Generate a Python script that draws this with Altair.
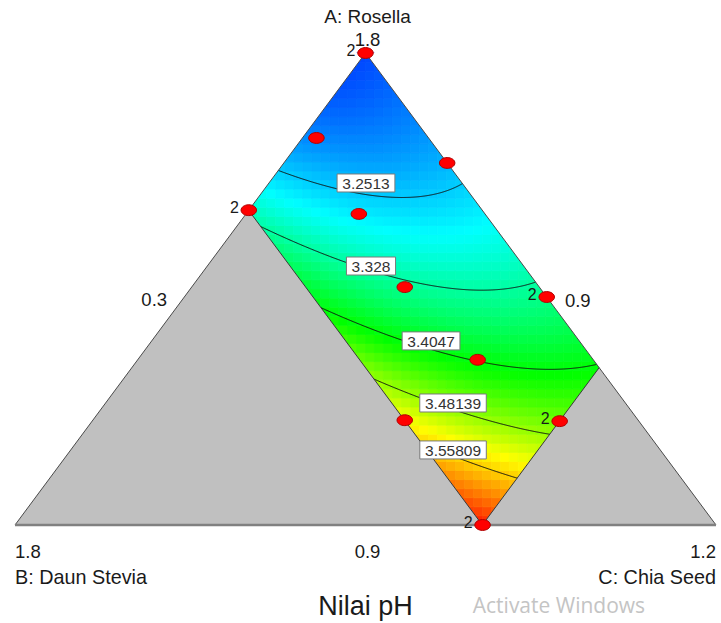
import altair as alt
import pandas as pd
import numpy as np

# ---------------- data ----------------
# Design points, ternary fractions (A: Rosella, B: Daun Stevia, C: Chia Seed)
pt_a = [1.0, 0.82, 0.767, 0.667, 0.659, 0.504, 0.483, 0.35, 0.222, 0.22, 0.0]
pt_b = [0.0, 0.16, 0.0, 0.333, 0.18, 0.192, 0.0, 0.165, 0.333, 0.113, 0.333]
pt_c = [0.0, 0.02, 0.233, 0.0, 0.161, 0.304, 0.517, 0.485, 0.445, 0.667, 0.667]
pt_rep = ["2", "", "", "2", "", "", "2", "", "", "2", "2"]

# Contour levels and their label positions (ternary fractions)
levels = [3.2513, 3.328, 3.4047, 3.48139, 3.55809]
level_text = ["3.2513", "3.328", "3.4047", "3.48139", "3.55809"]
lab_a = [0.7246, 0.5487, 0.390, 0.2585, 0.159]
lab_c = [0.1384, 0.2335, 0.3985, 0.4956, 0.5454]

# Constraint limits of the feasible region (fractions of B and C)
b_max = 1.0 / 3.0
c_max = 2.0 / 3.0

# Estimated quadratic response surface in pseudo coords u=B/b_max, v=C/c_max
# terms: 1, u, v, u^2, u*v, v^2
model_coef = [3.175, -0.006, 0.149, 0.145, 0.118, 0.084]

# colour ramp (blue -> cyan -> green -> yellow -> red)
ramp_values = [3.175, 3.28, 3.41, 3.53, 3.665]
ramp_colors = ["#0048ff", "#00ffff", "#00ff00", "#ffff00", "#ff1a00"]

# texts
title_text = "Nilai pH"
apex_texts = ["A: Rosella", "1.8"]
left_texts = ["1.8", "B: Daun Stevia"]
right_texts = ["1.2", "C: Chia Seed"]
mid_text = "0.9"
side_left_text = "0.3"
side_right_text = "0.9"
side_level = 0.4767   # fraction of A where the side labels sit
watermark = "Activate Windows"

# ---------------- helpers ----------------
W, H = 701, 472


def to_xy(a, c):
    return 0.5 * a + c, a


def model(u, v):
    k = model_coef
    return k[0] + k[1] * u + k[2] * v + k[3] * u * u + k[4] * u * v + k[5] * v * v


sx = alt.Scale(domain=[0, 1], nice=False, zero=False)
sy = alt.Scale(domain=[0, 1], nice=False, zero=False)
X = alt.X("x:Q", scale=sx, axis=None)
Y = alt.Y("y:Q", scale=sy, axis=None)

# ---------------- colour field ----------------
nx, ny = 39, 52
x_lo, x_hi = 1.0 / 3.0, 5.0 / 6.0
xs = np.linspace(x_lo, x_hi, nx + 1)
ys = np.linspace(0.0, 1.0, ny + 1)
cells = []
for i in range(nx):
    for j in range(ny):
        xc = 0.5 * (xs[i] + xs[i + 1])
        yc = 0.5 * (ys[j] + ys[j + 1])
        inside = False
        for xx in (xs[i], xs[i + 1]):
            for yy in (ys[j], ys[j + 1]):
                a = yy
                c = xx - 0.5 * yy
                b = 1 - a - c
                if -1e-9 <= b <= b_max + 1e-9 and -1e-9 <= c <= c_max + 1e-9 and a >= -1e-9:
                    inside = True
        if not inside:
            continue
        a = yc
        c = xc - 0.5 * yc
        b = 1 - a - c
        u = min(max(b / b_max, 0), 1)
        v = min(max(c / c_max, 0), 1)
        cells.append(dict(x0=xs[i], x1=xs[i + 1], y0=ys[j], y1=ys[j + 1], val=model(u, v)))
cells = pd.DataFrame(cells)

cscale = alt.Scale(domain=ramp_values, range=ramp_colors, interpolate="rgb")
field = alt.Chart(cells).mark_rect(strokeWidth=0.8).encode(
    x=alt.X("x0:Q", scale=sx, axis=None), x2="x1:Q",
    y=alt.Y("y0:Q", scale=sy, axis=None), y2="y1:Q",
    color=alt.Color("val:Q", scale=cscale, legend=None),
    stroke=alt.Stroke("val:Q", scale=cscale, legend=None),
)

# ---------------- masks ----------------
gray_df = pd.DataFrame({"x": [0, 1 / 3, 2 / 3, 5 / 6, 1], "y": [0] * 5,
                        "y2": [0, 2 / 3, 0, 1 / 3, 0]})
gray = alt.Chart(gray_df).mark_area(color="#c0c0c0", opacity=1).encode(
    x=X, y=Y, y2="y2:Q")
e = 0.012
white_df = pd.DataFrame({"x": [1 / 3 - e, 0.5, 5 / 6 + e],
                         "y": [2 * (1 / 3 - e), 1, 2 * (1 / 6 - e)], "y2": [1.0] * 3})
white = alt.Chart(white_df).mark_area(color="white", opacity=1).encode(
    x=X, y=Y, y2="y2:Q")

# ---------------- contour lines ----------------
k = model_coef
rows = []
for L, lt in zip(levels, level_text):
    pts = []
    for u in np.linspace(0, 1, 401):
        A = k[5]
        B = k[2] + k[4] * u
        C = k[0] + k[1] * u + k[3] * u * u - L
        d = B * B - 4 * A * C
        if d < 0:
            continue
        v = (-B + np.sqrt(d)) / (2 * A)
        if 0 <= v <= 1:
            pts.append((u, v))
    for vb in (0.0, 1.0):
        A2 = k[3]
        B2 = k[1] + k[4] * vb
        C2 = k[0] + k[2] * vb + k[5] * vb * vb - L
        d = B2 * B2 - 4 * A2 * C2
        if d >= 0:
            ub = (-B2 + np.sqrt(d)) / (2 * A2)
            if 0 <= ub <= 1:
                pts.append((ub, vb))
    pts.sort()
    for n, (u, v) in enumerate(pts):
        b = u * b_max
        c = v * c_max
        a = 1 - b - c
        x, y = to_xy(a, c)
        rows.append(dict(level=lt, o=n, x=x, y=y))
cont = pd.DataFrame(rows)
contours = alt.Chart(cont).mark_line(color="#111111", strokeWidth=1).encode(
    x=X, y=Y, detail="level:N", order="o:Q")

# ---------------- edges ----------------
tri_df = pd.DataFrame({"x": [0, 0.5, 1], "y": [0, 1, 0], "o": [0, 1, 2]})
tri = alt.Chart(tri_df).mark_line(color="#4a4a4a", strokeWidth=1).encode(x=X, y=Y, order="o:Q")
base_df = pd.DataFrame({"x": [0, 1], "y": [0, 0], "o": [0, 1]})
base = alt.Chart(base_df).mark_line(color="#808080", strokeWidth=2.5).encode(x=X, y=Y, order="o:Q")
par_df = pd.DataFrame({"x": [1 / 3, 2 / 3, 5 / 6], "y": [2 / 3, 0, 1 / 3], "o": [0, 1, 2]})
par = alt.Chart(par_df).mark_line(color="#3a3a3a", strokeWidth=1).encode(x=X, y=Y, order="o:Q")

# ---------------- contour labels ----------------
lab_rows = []
for t, a, c in zip(level_text, lab_a, lab_c):
    x, y = to_xy(a, c)
    ndig = sum(ch.isdigit() for ch in t)
    wpx = ndig * 8.7 + 4.3 + 10
    hpx = 18
    lab_rows.append(dict(t=t, x=x, y=y,
                         bx0=x - wpx / 2 / W, bx1=x + wpx / 2 / W,
                         by0=y - hpx / 2 / H, by1=y + hpx / 2 / H))
labs = pd.DataFrame(lab_rows)
boxes = alt.Chart(labs).mark_rect(fill="white", stroke="#7a7a7a", strokeWidth=1).encode(
    x=alt.X("bx0:Q", scale=sx, axis=None), x2="bx1:Q",
    y=alt.Y("by0:Q", scale=sy, axis=None), y2="by1:Q")
lab_txt = alt.Chart(labs).mark_text(fontSize=15.5, font="Liberation Sans", color="#333333",
                                    baseline="middle", align="center", dy=1).encode(
    x=X, y=Y, text="t:N")

# ---------------- design points ----------------
pxy = [to_xy(a, c) for a, c in zip(pt_a, pt_c)]
pts_df = pd.DataFrame({"x": [p[0] for p in pxy], "y": [p[1] for p in pxy], "rep": pt_rep})
ellipse = "M-1,0 A1,0.7 0 1,1 1,0 A1,0.7 0 1,1 -1,0 Z"
points = alt.Chart(pts_df).mark_point(shape=ellipse, size=240, filled=True, fill="#ff0000",
                                      stroke="#b00000", strokeWidth=1, opacity=1).encode(x=X, y=Y)
reps = alt.Chart(pts_df[pts_df["rep"] != ""]).mark_text(
    align="right", baseline="middle", dx=-10, dy=-2, fontSize=16,
    font="Liberation Sans", color="#1a1a1a").encode(x=X, y=Y, text="rep:N")


# ---------------- outer texts ----------------
def text_at(t, x, y, align, size, dx=0, dy=0, color="#1a1a1a", font="Liberation Sans"):
    df = pd.DataFrame({"x": [x], "y": [y], "t": [t]})
    return alt.Chart(df).mark_text(align=align, baseline="middle", dx=dx, dy=dy,
                                   fontSize=size, font=font, color=color).encode(
        x=X, y=Y, text="t:N")


lx, ly = to_xy(side_level, 0.0)
rx, ry = to_xy(side_level, 1 - side_level)
texts = [
    text_at(apex_texts[0], 0.5, 1, "center", 19, dx=2, dy=-36),
    text_at(apex_texts[1], 0.5, 1, "center", 18.5, dx=2, dy=-13),
    text_at(side_left_text, lx, ly, "right", 18.5, dx=-15),
    text_at(side_right_text, rx, ry, "left", 18.5, dx=16, dy=1),
    text_at(left_texts[0], 0, 0, "left", 18.5, dy=27),
    text_at(left_texts[1], 0, 0, "left", 19.8, dy=53),
    text_at(mid_text, 0.5, 0, "center", 18.5, dx=2, dy=27),
    text_at(right_texts[0], 1, 0, "right", 18.5, dy=27),
    text_at(right_texts[1], 1, 0, "right", 19.8, dy=53),
    text_at(title_text, 0.5, 0, "center", 27, dy=82),
    text_at(watermark, 0.653, 0, "left", 21, dy=82, color="#c4c4c4", font="Open Sans"),
]

chart = alt.layer(field, gray, white, contours, par, tri, base, boxes, lab_txt,
                  points, reps, *texts).properties(
    width=W, height=H,
    padding={"left": 15, "top": 53, "right": 5, "bottom": 98},
    autosize=alt.AutoSizeParams(type="none"),
    background="white",
).configure_view(stroke=None)

chart.save("out.html", embed_options={"renderer": "svg", "actions": False})
